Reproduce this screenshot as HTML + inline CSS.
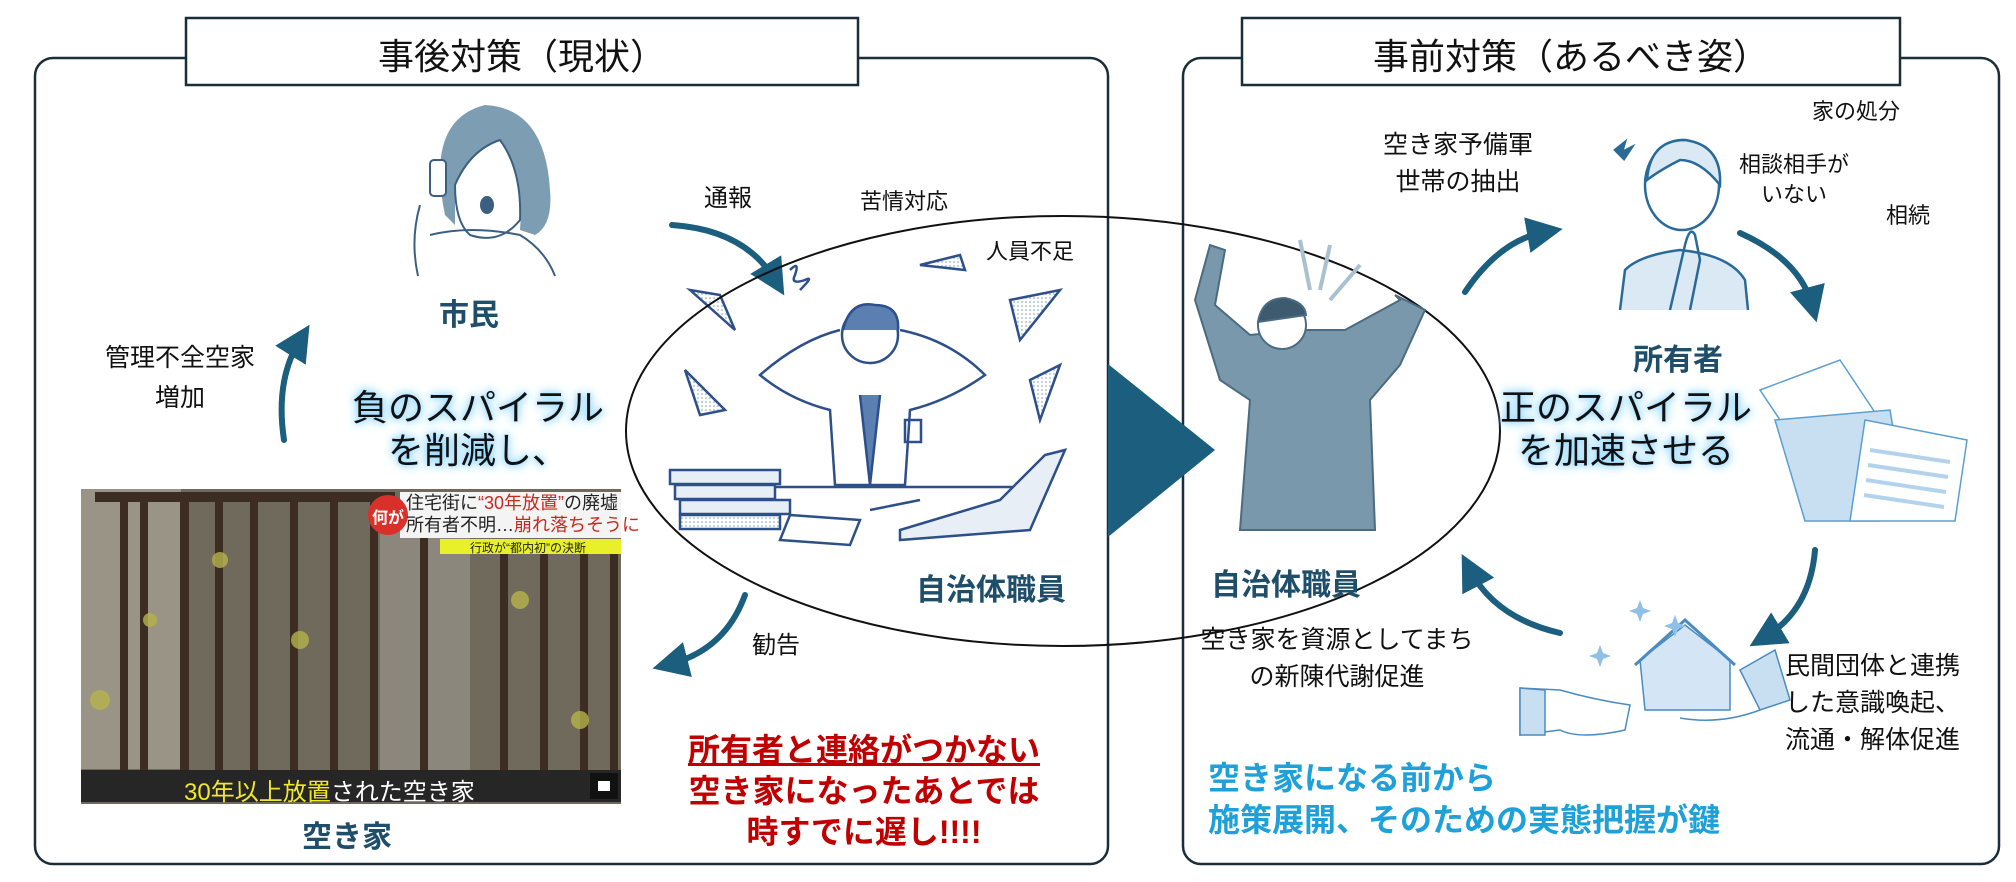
<!DOCTYPE html>
<html><head><meta charset="utf-8">
<style>
body{margin:0;width:2016px;height:882px;background:#fff;position:relative;overflow:hidden;font-family:"Liberation Sans","Noto Sans CJK JP",sans-serif;}
.t{position:absolute;white-space:nowrap;color:#111;}
.c{transform:translateX(-50%);text-align:center;}
.b{font-weight:bold;}
.glow{text-shadow:0 0 6px #8fd6ff,0 0 10px #8fd6ff,0 0 14px #b8e6ff;}
</style></head><body>
<svg width="2016" height="882" style="position:absolute;left:0;top:0">
<defs>
<marker id="ah" markerWidth="6" markerHeight="6" refX="3" refY="3" orient="auto" markerUnits="strokeWidth"><path d="M0,0 L6,3 L0,6 z" fill="#1b5e7e"/></marker>
<pattern id="dot" width="4" height="4" patternUnits="userSpaceOnUse"><circle cx="2" cy="2" r="0.8" fill="#7a9ec0"/></pattern>
</defs>
<rect x="35" y="58" width="1073" height="806" rx="18" fill="none" stroke="#1a2e3a" stroke-width="2.5"/>
<rect x="1183" y="58" width="816" height="806" rx="18" fill="none" stroke="#1a2e3a" stroke-width="2.5"/>
<rect x="186" y="18" width="672" height="67" fill="#fff" stroke="#1a2e3a" stroke-width="2.5"/>
<rect x="1242" y="18" width="658" height="67" fill="#fff" stroke="#1a2e3a" stroke-width="2.5"/>
<polygon points="1108,364 1215,450 1108,537" fill="#1b5e7e"/>
<!-- woman -->
<g stroke="#3b5f80" stroke-width="2" fill="none">
<path d="M445,215 Q425,120 485,105 Q545,108 550,190 Q553,225 535,235 L520,230 Q525,170 500,140 Q470,150 455,185 L455,225 z" fill="#7d9db3" stroke="none"/>
<path d="M455,185 Q470,150 500,140 Q522,170 520,220 Q500,245 470,235 Q455,222 455,185z" fill="#fff"/>
<ellipse cx="487" cy="205" rx="7" ry="9" fill="#3b5f80" stroke="none"/>
<rect x="430" y="160" width="16" height="36" rx="4" fill="#fff"/>
<path d="M420,205 Q410,240 418,276 M430,235 Q470,225 520,235 Q545,250 555,276"/>
</g>
<g stroke="#1b5e7e" stroke-width="6" fill="none" stroke-linecap="round">
<path d="M284,440 Q275,380 300,340" marker-end="url(#ah)"/>
<path d="M672,225 Q745,230 775,280" marker-end="url(#ah)"/>
<path d="M745,595 Q725,650 670,664" marker-end="url(#ah)"/>
<path d="M1465,292 Q1500,240 1545,232" marker-end="url(#ah)"/>
<path d="M1740,233 Q1800,260 1812,305" marker-end="url(#ah)"/>
<path d="M1815,550 Q1810,610 1765,637" marker-end="url(#ah)"/>
<path d="M1560,633 Q1495,618 1470,570" marker-end="url(#ah)"/>
</g>
<g stroke="#2d4f8a" stroke-width="2.5" fill="none">
<circle cx="870" cy="335" r="28" fill="#fff"/>
<path d="M843,330 Q850,300 875,305 Q900,305 898,330" fill="#5a7fb0"/>
<path d="M840,330 Q800,340 760,375 Q790,400 830,410 L835,485 L905,485 L910,410 Q950,400 985,375 Q950,340 900,330"/>
<path d="M860,395 L870,485 L880,395" fill="#5a7fb0"/>
<rect x="905" y="420" width="16" height="22"/>
<path d="M690,487 L1040,487"/>
<rect x="670" y="470" width="110" height="14" fill="#e8eef6"/>
<rect x="675" y="485" width="100" height="14" fill="#e8eef6"/>
<rect x="680" y="500" width="110" height="14" fill="#e8eef6"/>
<rect x="680" y="515" width="100" height="14" fill="url(#dot)"/>
<path d="M790,515 L860,520 L850,545 L780,540z" fill="#fff"/>
<path d="M900,530 L1000,500 L1045,455 L1065,450 L1030,530 L900,540z" fill="#e8eef6"/>
<path d="M870,510 L920,500"/>
<path d="M690,290 L720,295 L735,330z" fill="url(#dot)"/>
<path d="M685,370 L725,410 L700,415z" fill="url(#dot)"/>
<path d="M920,265 L960,255 L965,270z" fill="url(#dot)"/>
<path d="M1010,300 L1060,290 L1020,340z" fill="url(#dot)"/>
<path d="M1030,380 L1060,365 L1040,420z" fill="url(#dot)"/>
<path d="M790,270 q10,-10 5,5 q-5,10 10,5 q10,-5 -5,10"/>
</g>
<rect x="81" y="489" width="540" height="315" fill="#6f6a5c"/>
<rect x="81" y="489" width="100" height="280" fill="#9a9487"/>
<rect x="380" y="520" width="90" height="250" fill="#8b877d"/>
<g fill="#3d2c22">
<rect x="95" y="492" width="300" height="10"/>
<rect x="120" y="495" width="8" height="275"/><rect x="140" y="495" width="8" height="275"/><rect x="180" y="495" width="9" height="275"/>
<rect x="215" y="495" width="8" height="275"/><rect x="250" y="495" width="8" height="275"/><rect x="290" y="495" width="8" height="275"/>
<rect x="330" y="495" width="8" height="275"/><rect x="370" y="495" width="8" height="275"/><rect x="420" y="530" width="8" height="240"/>
<rect x="500" y="550" width="8" height="220"/><rect x="540" y="550" width="8" height="220"/><rect x="580" y="550" width="8" height="220"/><rect x="610" y="550" width="8" height="220"/>
</g>
<g fill="#b6b34a" opacity="0.8"><circle cx="100" cy="700" r="10"/><circle cx="220" cy="560" r="8"/><circle cx="300" cy="640" r="9"/><circle cx="520" cy="600" r="9"/><circle cx="580" cy="720" r="9"/><circle cx="150" cy="620" r="7"/></g>
<rect x="81" y="770" width="540" height="32" fill="#262626"/>
<rect x="590" y="773" width="28" height="26" fill="#111"/>
<rect x="598" y="781" width="12" height="10" fill="#fff"/>
<rect x="400" y="492" width="221" height="24" fill="#f4f4f4"/>
<rect x="400" y="516" width="221" height="22" fill="#f4f4f4"/>
<rect x="440" y="539" width="181" height="15" fill="#e8f02a"/>
<circle cx="388" cy="515" r="20" fill="#d9302a"/>
<ellipse cx="1063" cy="431" rx="437" ry="215" fill="none" stroke="#111" stroke-width="2"/>
<g fill="#7a98ab" stroke="#4b6b80" stroke-width="2">
<path d="M1195,300 L1210,245 L1225,250 L1215,305 L1250,335 L1300,330 L1345,330 L1400,300 L1395,295 L1405,300 L1425,310 L1400,365 L1370,400 L1375,530 L1240,530 L1250,400 L1220,380 z"/>
<circle cx="1282" cy="325" r="24" fill="#fff"/>
<path d="M1258,322 Q1262,298 1285,298 Q1305,302 1306,315 Z" fill="#3d5a6e"/>
</g>
<g stroke="#a9c0d0" stroke-width="4"><line x1="1300" y1="240" x2="1310" y2="290"/><line x1="1330" y1="245" x2="1320" y2="290"/><line x1="1360" y1="265" x2="1330" y2="300"/></g>
<g stroke="#2a6a98" stroke-width="2.5" fill="none">
<path d="M1620,310 L1625,270 Q1640,255 1680,250 Q1730,255 1745,280 L1748,310" fill="#dbe9f4"/>
<ellipse cx="1682" cy="185" rx="37" ry="45" fill="#fff"/>
<path d="M1647,180 Q1650,140 1685,140 Q1722,145 1720,185 Q1700,160 1680,160 Q1660,170 1647,180z" fill="#dbe9f4"/>
<path d="M1670,310 L1685,245 Q1690,225 1695,235 L1700,260 L1690,310"/>
<path d="M1615,150 l10,-8 l-3,10 l10,-5 l-8,12 z" fill="#2a6a98"/>
</g>
<g stroke="#5b9fd0" stroke-width="1.5">
<path d="M1760,390 L1840,360 L1880,420 L1800,450z" fill="#fff"/>
<path d="M1775,420 L1890,410 L1900,470 L1880,521 L1805,521z" fill="#c7dff0"/>
<path d="M1865,420 L1967,440 L1955,521 L1850,521z" fill="#fff"/>
<g stroke="#b3d3ec" stroke-width="4"><line x1="1870" y1="450" x2="1950" y2="462"/><line x1="1868" y1="465" x2="1948" y2="477"/><line x1="1866" y1="480" x2="1946" y2="492"/><line x1="1864" y1="495" x2="1944" y2="507"/></g>
</g>
<g stroke="#4b8bbf" stroke-width="1.5">
<path d="M1640,660 L1685,625 L1730,660 L1730,710 L1645,710z" fill="#d4e6f5"/>
<path d="M1635,665 L1685,620 L1735,665" fill="none" stroke-width="3"/>
<path d="M1520,688 L1560,690 Q1595,700 1630,705 L1625,730 Q1580,740 1560,730 L1520,735z" fill="#fff"/>
<path d="M1520,688 L1545,690 L1545,735 L1520,735z" fill="#c7dff0"/>
<path d="M1740,670 L1775,650 L1790,700 L1760,710z" fill="#c7dff0"/>
<path d="M1680,718 Q1720,725 1760,710" fill="none"/>
</g>
<g fill="#8fc0e6"><path d="M1640,600 l3,8 l8,3 l-8,3 l-3,8 l-3,-8 l-8,-3 l8,-3z"/><path d="M1600,645 l3,8 l8,3 l-8,3 l-3,8 l-3,-8 l-8,-3 l8,-3z"/><path d="M1675,615 l3,8 l8,3 l-8,3 l-3,8 l-3,-8 l-8,-3 l8,-3z"/></g>
</svg>

<div class="t c" style="left:522px;top:28px;font-size:36px;">事後対策（現状）</div>
<div class="t c" style="left:1571px;top:28px;font-size:36px;">事前対策（あるべき姿）</div>

<div class="t c b" style="left:469px;top:290px;font-size:30px;color:#1f4e6b;">市民</div>
<div class="t c" style="left:180px;top:338px;font-size:25px;line-height:40px;">管理不全空家<br>増加</div>
<div class="t c glow" style="left:478px;top:386px;font-size:36px;line-height:43px;">負のスパイラル<br>を削減し、</div>
<div class="t" style="left:704px;top:178px;font-size:24px;">通報</div>
<div class="t" style="left:860px;top:184px;font-size:22px;">苦情対応</div>
<div class="t" style="left:986px;top:234px;font-size:22px;">人員不足</div>
<div class="t c b" style="left:991px;top:565px;font-size:30px;color:#1f4e6b;">自治体職員</div>
<div class="t" style="left:752px;top:625px;font-size:24px;">勧告</div>
<div class="t c b" style="left:347px;top:812px;font-size:30px;color:#1f4e6b;">空き家</div>
<div class="t c b" style="left:864px;top:730px;font-size:32px;line-height:41px;color:#c00000;"><span style="text-decoration:underline;">所有者と連絡がつかない</span><br>空き家になったあとでは<br>時すでに遅し!!!!</div>
<div class="t" style="left:406px;top:492px;font-size:18px;line-height:22px;color:#222;">住宅街に<span style="color:#c8281e">“30年放置”</span>の廃墟<br>所有者不明…<span style="color:#c8281e">崩れ落ちそうに</span></div>
<div class="t" style="left:372px;top:504px;font-size:16px;color:#fff;font-weight:bold;">何が</div>
<div class="t" style="left:470px;top:539px;font-size:12px;color:#222;">行政が“都内初”の決断</div>
<div class="t" style="left:184px;top:772px;font-size:24px;color:#fff;"><span style="color:#f0e82a">30年以上放置</span>された空き家</div>

<div class="t" style="left:1812px;top:94px;font-size:22px;">家の処分</div>
<div class="t c" style="left:1458px;top:127px;font-size:25px;line-height:37px;">空き家予備軍<br>世帯の抽出</div>
<div class="t c" style="left:1794px;top:150px;font-size:22px;line-height:30px;">相談相手が<br>いない</div>
<div class="t" style="left:1886px;top:198px;font-size:22px;">相続</div>
<div class="t c b" style="left:1286px;top:560px;font-size:30px;color:#1f4e6b;">自治体職員</div>
<div class="t c b" style="left:1678px;top:335px;font-size:30px;color:#1f4e6b;">所有者</div>
<div class="t c glow" style="left:1626px;top:386px;font-size:36px;line-height:43px;">正のスパイラル<br>を加速させる</div>
<div class="t c" style="left:1337px;top:622px;font-size:25px;line-height:37px;">空き家を資源としてまち<br>の新陳代謝促進</div>
<div class="t" style="left:1785px;top:648px;font-size:25px;line-height:37px;">民間団体と連携<br>した意識喚起、<br>流通・解体促進</div>
<div class="t b" style="left:1208px;top:757px;font-size:32px;line-height:42px;color:#1ea0d8;">空き家になる前から<br>施策展開、そのための実態把握が鍵</div>
</body></html>
